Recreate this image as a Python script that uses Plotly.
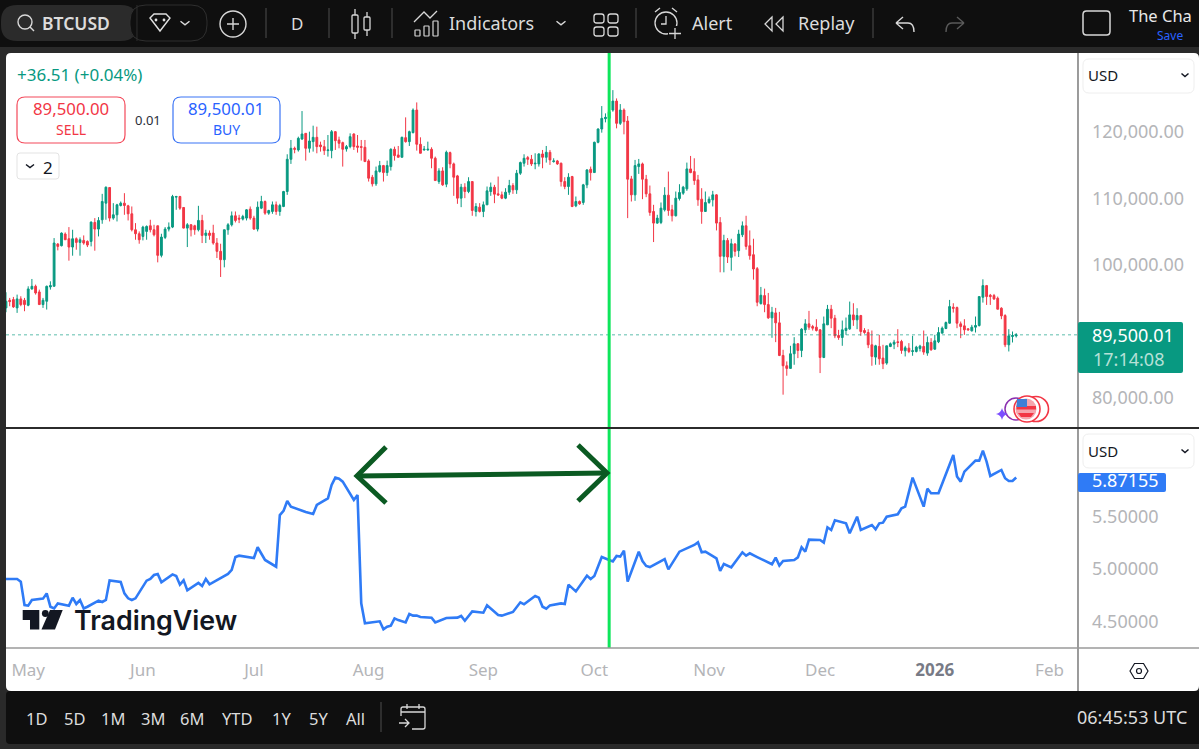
import re
import pandas as pd
import plotly.graph_objects as go
from plotly.subplots import make_subplots

W, H = 1199, 749
FONT = "Noto Sans"

# ---- data (price in thousands of USD, one candle per day from 2025-04-25) ----
first_day = "2025-04-25"
open_k = [
93.55,94.7,94.8,93.55,94.9,94.7,93.95,96.4,96.8,95.95,
94.05,94.55,96.7,96.8,103.15,102.9,104.65,103.95,102.7,103.95,
103.4,103.7,103.55,103.55,106.4,105.4,106.8,109.3,111.65,107.05,
107.55,108.95,109.3,108.9,107.7,105.3,104.7,104.3,105.05,105.9,
105.3,105.9,101.45,104.15,105.4,105.7,110.2,110.3,108.65,105.55,
106.05,105.9,105.3,106.7,104.45,104.8,104.8,103.3,102.05,100.8,
105.3,106.05,107.4,107.05,106.9,107.05,108.4,107.05,105.4,108.55,
109.55,107.8,108.05,109.05,108.05,108.8,111.05,115.9,117.55,117.3,
118.95,119.8,117.55,118.55,119.2,118.05,117.8,117.2,117.2,120.05,
118.8,118.4,117.45,117.8,119.7,117.9,117.8,117.7,115.65,113.2,
112.2,114.05,114.95,113.9,114.8,117.4,116.55,116.2,119.15,118.55,
119.9,123.3,118.15,117.3,117.3,117.4,116.05,112.55,114.15,112.15,
116.9,115.2,113.4,110.05,111.7,111.05,112.55,108.05,108.7,108.05,
109.05,111.05,111.7,110.7,110.55,110.05,110.95,111.95,111.3,113.8,
115.3,116.15,115.9,115.2,115.2,116.7,116.2,116.95,115.55,115.65,
115.3,112.55,111.8,113.3,108.9,109.55,109.4,112.05,114.4,113.9,
118.45,120.45,122.0,122.05,123.3,124.65,121.3,123.3,121.65,112.95,
110.55,114.8,115.2,112.9,110.7,108.05,106.3,106.4,108.3,110.5,
108.3,107.4,110.0,110.8,111.45,114.45,114.05,112.8,109.9,108.05,
109.4,109.8,110.55,106.4,101.3,103.7,101.15,103.15,102.15,104.55,
105.9,102.9,101.55,99.45,94.2,95.4,94.05,92.05,92.8,91.3,
86.4,84.85,84.45,86.65,88.15,87.15,90.25,91.15,90.75,90.65,
90.25,86.1,91.0,93.35,92.0,89.4,89.1,90.15,90.4,92.5,
91.75,92.4,90.15,89.85,88.0,86.15,87.75,86.0,85.25,87.75,
88.1,88.45,88.5,87.1,87.5,87.0,87.0,87.45,87.75,86.75,
88.35,87.35,88.45,89.75,90.45,91.25,93.65,93.6,91.15,90.85,
90.4,90.1,90.65,90.9,95.15,96.9,95.45,95.4,95.0,93.5,
92.4,88.0,89.25,89.35]
high_k = [
95.9,95.05,95.2,95.55,95.3,95.05,96.8,97.9,97.05,96.3,
95.05,96.9,97.55,104.05,103.3,104.9,104.9,105.7,105.3,104.15,
104.15,104.45,103.7,106.55,107.05,107.2,110.7,111.8,111.7,109.3,
109.2,109.55,110.8,109.05,108.8,106.3,105.05,105.9,105.95,106.8,
106.05,105.9,104.7,105.7,106.4,110.55,110.4,110.4,108.7,106.3,
106.15,106.05,108.9,107.55,105.3,105.2,106.05,104.05,103.2,105.3,
106.3,108.05,108.05,107.55,107.55,108.4,108.8,107.4,109.55,110.4,
109.7,108.3,109.55,109.55,109.2,111.15,116.65,118.8,117.8,119.3,
123.15,119.8,120.05,120.95,120.8,118.55,118.8,119.55,120.3,120.15,
119.3,118.55,118.05,119.8,119.8,119.55,118.8,118.8,115.9,113.55,
114.8,115.65,115.05,115.7,117.55,117.8,117.9,119.3,122.2,120.2,
123.55,124.45,119.2,117.9,118.55,117.7,116.3,114.55,114.7,117.2,
117.05,115.4,113.55,112.2,112.3,113.2,112.55,109.3,109.3,109.55,
111.8,112.4,112.05,113.3,111.05,111.55,112.8,112.3,114.3,115.55,
116.65,116.4,116.55,116.8,116.8,117.3,117.9,117.3,116.05,115.8,
115.4,113.2,113.8,113.4,110.3,109.7,112.2,114.4,114.8,118.55,
120.55,123.9,122.8,123.3,126.3,125.05,124.2,123.55,122.4,113.4,
115.8,115.95,115.4,113.55,111.95,109.05,107.55,109.4,111.7,114.05,
109.05,111.05,112.15,111.9,115.4,116.4,116.05,113.55,111.55,111.05,
110.3,111.15,110.65,107.2,104.55,104.05,103.95,103.3,105.3,106.55,
107.4,105.2,103.95,99.7,96.7,96.45,95.8,93.7,93.55,92.95,
87.25,85.5,87.85,89.15,88.25,90.5,91.85,93.1,91.0,91.85,
90.35,92.25,94.0,94.0,92.5,90.25,91.65,92.1,94.5,94.25,
93.5,92.5,90.5,90.35,90.15,88.0,89.5,88.0,87.85,88.35,
88.75,90.35,88.75,87.85,88.25,89.35,87.85,88.0,90.15,89.25,
89.0,89.5,90.65,90.75,91.5,94.75,94.25,93.75,91.5,91.85,
90.5,91.0,92.25,95.25,97.85,97.0,95.65,95.65,95.25,93.65,
92.6,90.35,90.0,89.75]
low_k = [
92.9,93.8,93.55,92.8,93.8,93.05,93.8,96.3,95.55,94.05,
93.55,93.3,96.3,96.8,102.2,102.8,103.8,100.65,101.4,102.3,
101.4,103.05,102.7,102.8,102.15,104.3,106.2,106.8,106.55,106.8,
106.55,108.8,107.55,106.7,105.05,103.8,103.2,103.7,103.8,104.9,
104.3,100.4,101.15,103.9,105.05,105.55,108.3,108.3,105.5,102.7,
104.3,104.55,105.05,103.3,103.3,103.8,103.05,101.05,98.2,99.65,
104.55,105.8,106.4,106.3,106.7,106.7,106.8,105.3,105.05,108.4,
107.55,107.55,107.7,107.55,107.4,108.7,110.55,115.2,116.8,117.05,
118.8,115.7,116.9,117.05,116.8,117.05,116.55,116.3,116.05,117.3,
117.55,114.8,117.05,117.55,117.3,116.9,115.7,115.55,112.55,111.8,
111.9,113.9,112.55,113.4,114.2,115.7,116.2,116.2,118.4,117.9,
119.8,117.2,116.8,117.2,117.2,114.55,112.7,112.2,111.9,111.7,
114.55,110.4,109.2,108.7,110.05,110.8,107.4,107.3,107.9,107.2,
109.05,110.4,109.3,110.4,109.9,109.9,110.55,110.7,110.7,113.55,
114.8,115.05,114.9,114.4,114.8,114.55,115.4,115.05,115.4,115.05,
111.8,111.4,110.55,108.7,108.7,109.05,109.05,111.55,112.7,113.9,
118.3,119.9,121.45,121.8,123.05,120.55,121.05,119.65,107.05,109.55,
109.65,113.7,109.9,110.2,107.4,103.45,106.2,106.15,108.05,107.4,
106.55,107.3,109.7,110.55,111.15,113.8,112.05,108.9,106.2,108.05,
109.2,108.8,105.2,98.9,98.9,100.3,99.15,101.3,101.2,104.2,
102.3,100.8,97.8,93.8,94.05,92.9,91.9,89.05,88.4,86.3,
80.5,83.35,84.45,85.0,86.0,86.15,89.75,90.25,90.15,90.0,
83.75,86.0,91.0,90.5,89.0,88.75,87.85,89.5,90.25,90.85,
90.35,89.35,89.65,87.5,84.85,85.0,85.0,84.35,85.0,87.65,
87.35,87.65,86.65,86.25,86.75,86.35,86.85,87.0,86.5,86.35,
87.1,87.25,88.25,89.75,90.35,91.15,92.85,90.5,89.0,89.5,
90.15,90.0,89.85,90.75,94.35,94.0,94.0,94.75,93.35,91.85,
87.65,87.0,88.35,89.1]
close_k = [
94.55,94.5,93.7,94.9,94.05,94.05,96.4,96.8,95.8,94.05,
94.7,96.8,96.9,103.3,102.8,104.8,103.8,102.7,103.95,103.4,
103.8,103.3,103.0,106.45,105.4,106.7,109.55,111.7,107.05,107.55,
109.05,109.3,108.95,107.7,105.3,104.7,103.8,105.7,105.8,105.3,
104.55,101.45,104.2,105.4,105.7,110.3,110.3,108.55,105.55,106.05,
105.3,105.3,106.7,104.45,104.8,104.45,103.3,102.05,100.8,105.3,
106.05,107.4,106.7,106.9,107.3,108.3,107.05,105.4,108.7,109.55,
107.8,108.2,109.05,108.05,108.95,111.05,115.9,117.55,117.4,119.05,
119.7,117.55,118.65,119.2,117.8,117.8,117.2,117.3,120.05,118.7,
118.3,117.4,117.8,119.3,117.8,117.7,117.7,115.55,113.05,112.2,
114.15,114.95,113.9,114.95,117.4,116.45,116.2,119.2,118.55,120.05,
123.3,118.15,116.8,117.4,117.4,116.05,112.7,114.15,112.05,116.95,
115.2,113.2,110.05,111.7,111.05,112.55,108.2,108.8,108.05,109.05,
111.15,111.7,110.65,110.55,110.05,110.95,111.95,111.3,113.8,115.4,
116.05,115.9,115.2,115.3,116.7,116.2,116.95,115.8,115.65,115.2,
112.55,111.8,113.2,108.8,109.55,109.2,112.05,114.3,113.9,118.45,
120.45,122.05,122.2,123.05,124.65,121.3,123.3,121.55,112.9,110.55,
114.95,115.2,112.9,110.7,107.9,106.3,107.05,108.55,110.5,108.2,
107.4,110.05,110.9,111.7,114.45,113.9,112.7,109.8,108.05,109.4,
109.9,110.55,106.3,101.3,103.7,101.2,103.2,102.05,104.65,105.9,
102.8,101.4,99.4,94.4,95.45,94.05,92.05,92.9,91.3,86.4,
84.85,84.45,86.65,88.15,87.15,90.35,91.15,90.65,90.5,90.15,
86.1,91.15,93.35,92.0,89.35,89.1,90.25,90.5,92.5,91.75,
92.4,90.0,89.85,88.0,86.25,87.85,85.9,85.15,87.85,88.15,
88.4,88.35,87.15,87.55,87.0,87.1,87.65,87.8,86.9,88.35,
87.25,88.6,89.85,90.5,91.35,93.75,93.5,91.25,90.75,90.25,
90.25,90.65,90.9,95.25,96.9,95.25,95.25,94.9,93.35,92.35,
88.0,89.35,89.4,89.5]

# lower pane: day number (counted from first_day) and indicator value
line_day = [0,3,4,5,6,7,10,11,12,13,14,17,18,19,20,21,22,25,26,27,28,31,32,33,34,35,38,39,40,41,42,45,46,47,48,49,
52,53,54,55,60,61,62,63,67,68,70,73,74,75,76,77,81,83,84,86,87,88,89,90,91,94,95,96,97,101,102,103,104,105,106,
108,109,110,111,112,115,116,119,122,123,124,126,129,130,133,134,137,139,140,143,144,145,146,147,150,151,152,154,
157,158,159,161,163,164,165,166,167,168,171,172,173,174,178,179,182,186,187,188,189,192,193,194,196,199,200,201,
203,207,208,209,210,213,214,215,216,217,220,221,222,223,224,227,228,230,231,234,235,236,237,238,241,242,243,245,
248,249,250,252,256,257,258,259,262,263,264,265,266,269,270,271,272,273]
line_value = [4.905,4.905,4.88,4.657,4.651,4.705,4.718,4.768,4.641,4.625,4.673,4.651,4.727,4.667,4.705,4.625,4.641,
4.699,4.686,4.705,4.892,4.876,4.768,4.721,4.705,4.721,4.889,4.905,4.943,4.953,4.873,4.949,4.933,4.851,4.892,4.797,
4.867,4.838,4.905,4.854,4.953,4.991,5.114,5.127,5.105,5.207,5.086,5.022,5.514,5.553,5.648,5.594,5.543,5.524,5.61,
5.657,5.673,5.8,5.87,5.86,5.832,5.657,5.705,4.673,4.483,4.502,4.426,4.451,4.461,4.53,4.514,
4.492,4.572,4.556,4.556,4.543,4.537,4.492,4.533,4.537,4.553,4.508,4.597,4.584,4.654,4.562,4.556,4.591,4.683,4.664,
4.743,4.727,4.641,4.622,4.654,4.673,4.667,4.851,4.787,
4.937,4.905,4.933,5.114,5.086,5.073,5.124,5.118,5.175,4.88,5.165,5.076,5.029,5.019,5.095,4.997,5.165,5.229,5.254,
5.159,5.165,5.102,4.981,5.048,5.016,5.159,5.127,5.149,
5.114,5.045,5.108,5.032,5.076,5.086,5.111,5.207,5.165,5.28,5.276,5.251,5.397,5.372,5.464,5.435,5.34,5.498,5.372,
5.419,5.378,5.435,5.441,5.498,5.521,5.578,5.594,5.87,
5.594,5.765,5.721,5.721,6.086,5.88,5.832,5.927,6.032,6.032,6.127,6.022,5.886,5.943,5.864,5.838,5.838,5.87155]

price_ticks = [120000, 110000, 100000, 80000]
price_tick_text = ["120,000.00", "110,000.00", "100,000.00", "80,000.00"]
ind_ticks = [5.5, 5.0, 4.5]
ind_tick_text = ["5.50000", "5.00000", "4.50000"]
month_ticks = ["2025-05-01","2025-06-01","2025-07-01","2025-08-01","2025-09-01","2025-10-01",
               "2025-11-01","2025-12-01","2026-01-01","2026-02-01"]
month_text = ["May","Jun","Jul","Aug","Sep","Oct","Nov","Dec",
              "<b><span style='color:#787b86'>2026</span></b>","Feb"]
last_price = 89500.01
marked_day = "2025-10-05"

dates = pd.date_range(first_day, periods=len(close_k), freq="D")
line_dates = [dates[d] for d in line_day]

GREEN, RED, BLUE = "#089981", "#f23645", "#2962ff"
TICK = "#b4b5b8"
DARK, GAP = "#0f0f0f", "#2a2a2a"

fig = make_subplots(rows=2, cols=1, shared_xaxes=True)
fig.add_trace(go.Candlestick(
    x=dates,
    open=[v*1000 for v in open_k], high=[v*1000 for v in high_k],
    low=[v*1000 for v in low_k], close=[v*1000 for v in close_k],
    increasing=dict(line=dict(color=GREEN, width=1), fillcolor=GREEN),
    decreasing=dict(line=dict(color=RED, width=1), fillcolor=RED),
    whiskerwidth=0, showlegend=False), row=1, col=1)
fig.add_trace(go.Scatter(x=line_dates, y=line_value, mode="lines",
    line=dict(color="#2f7bf6", width=2.6), showlegend=False), row=2, col=1)

xdom = [6/W, 1078/W]
xrange_ = ["2025-04-25", "2026-02-08 16:48"]
x_font = dict(family=FONT, size=17, color=TICK)
y_font = dict(family=FONT, size=18, color=TICK)
fig.update_layout(
    width=W, height=H, margin=dict(l=0, r=0, t=0, b=0), autosize=False,
    paper_bgcolor=GAP, plot_bgcolor="rgba(0,0,0,0)", showlegend=False,
    font=dict(family=FONT),
    xaxis=dict(domain=xdom, range=xrange_, showgrid=False, zeroline=False, rangeslider=dict(visible=False),
               showticklabels=False, ticks="", type="date", matches="x2"),
    xaxis2=dict(domain=xdom, range=xrange_, showgrid=False, zeroline=False, type="date",
                tickmode="array", tickvals=month_ticks, ticktext=month_text, ticks="", ticklen=0,
                ticklabelstandoff=10, tickfont=x_font, showline=False),
    yaxis=dict(domain=[1-428/H, 1-53/H], range=[75490, 131880], side="right", showgrid=False, zeroline=False,
               tickmode="array", tickvals=price_ticks, ticktext=price_tick_text, ticks="", tickfont=y_font,
               ticklabelstandoff=13, showline=False),
    yaxis2=dict(domain=[1-648/H, 1-429/H], range=[4.248, 6.333], side="right", showgrid=False, zeroline=False,
                tickmode="array", tickvals=ind_ticks, ticktext=ind_tick_text, ticks="", tickfont=y_font,
                ticklabelstandoff=13, showline=False),
)

# ---- pixel helpers for the page furniture ----
shapes, notes = [], []
def fx(x): return x/W
def fy(y): return 1-y/H
def P(d):
    toks = d.split()
    out, isx = [], True
    for t in toks:
        if re.fullmatch(r"[A-Za-z]", t):
            out.append(t); isx = True
        else:
            out.append(f"{fx(float(t)):.5f}" if isx else f"{fy(float(t)):.5f}")
            isx = not isx
    return " ".join(out)
def path(d, color=None, width=1.5, fill=None, layer="above"):
    shapes.append(dict(type="path", xref="paper", yref="paper", path=P(d), layer=layer,
                       fillcolor=fill if fill else "rgba(0,0,0,0)",
                       line=dict(color=color if color else "rgba(0,0,0,0)", width=width if color else 0)))
def rrect(x0, y0, x1, y1, r, color=None, width=1, fill=None, layer="above"):
    path(f"M {x0+r} {y0} L {x1-r} {y0} Q {x1} {y0} {x1} {y0+r} L {x1} {y1-r} Q {x1} {y1} {x1-r} {y1} "
         f"L {x0+r} {y1} Q {x0} {y1} {x0} {y1-r} L {x0} {y0+r} Q {x0} {y0} {x0+r} {y0} Z", color, width, fill, layer)
def circle(cx, cy, r, color=None, width=1.5, fill=None):
    shapes.append(dict(type="circle", xref="paper", yref="paper", x0=fx(cx-r), x1=fx(cx+r), y0=fy(cy+r), y1=fy(cy-r),
                       fillcolor=fill if fill else "rgba(0,0,0,0)",
                       line=dict(color=color if color else "rgba(0,0,0,0)", width=width if color else 0)))
def text(x, y, s, size=15, color="#000", anchor="left", weight=None, family=FONT):
    notes.append(dict(x=fx(x), y=fy(y), xref="paper", yref="paper", text=s, showarrow=False, xanchor=anchor,
                      yanchor="middle", xshift=0, borderpad=0, borderwidth=0,
                      font=dict(family=family, size=size, color=color, weight=weight or 400)))
def chev(cx, cy, w=4, h=3, color="#d8d8d8", width=1.5):
    path(f"M {cx-w} {cy-h/2} L {cx} {cy+h/2} L {cx+w} {cy-h/2}", color, width)

# white panel behind both panes
rrect(6, 53, 1199, 691, 5, fill="#ffffff", layer="below")

# current price line and marked day
shapes.append(dict(type="line", xref="paper", yref="y", x0=6/W, x1=1078/W, y0=last_price, y1=last_price,
                   line=dict(color="rgba(8,153,129,0.65)", width=1, dash="dot"), layer="above"))
shapes.append(dict(type="line", xref="x", yref="paper", x0=marked_day, x1=marked_day, y0=fy(648), y1=fy(53),
                   line=dict(color="#0ee65b", width=3), layer="above"))

# dividers
path("M 1078 53 L 1078 691", "#7a7a7a", 1.5)
path("M 6 428 L 1199 428", "#2b2b2b", 2)
path("M 6 648 L 1199 648", "#9a9a9a", 1.5)

# drawn arrow
path("M 357 476 L 607 473", "#0b5a22", 5)
path("M 386 447 L 357 476 L 386 503", "#0b5a22", 5)
path("M 578 445 L 607 473 L 578 501", "#0b5a22", 5)

# scale widgets
rrect(1083, 59, 1194, 93, 6, "#eeeeee", 1, "#ffffff")
text(1088, 75, "USD", 15, "#131722"); chev(1185, 75, 3.5, 3, "#131722")
rrect(1078, 473, 1166, 492, 2, fill="#2f7bf6")
rrect(1083, 434, 1194, 468, 6, "#eeeeee", 1, "#ffffff")
text(1088, 451, "USD", 15, "#131722"); chev(1185, 451, 3.5, 3, "#131722")
text(1125, 480, "5.87155", 18, "#ffffff", "center")
rrect(1078, 322, 1183, 373, 2, fill=GREEN)
text(1132.5, 334.5, "89,500.01", 18, "#ffffff", "center")
text(1128, 358.5, "17:14:08", 18, "#b6e0d7", "center")

# hexagon settings mark
path("M 1130 671 L 1134.5 663.5 L 1143.5 663.5 L 1148 671 L 1143.5 678.5 L 1134.5 678.5 Z", "#131722", 1.2)
circle(1139, 671, 2.5, "#131722", 1.2)

# legend text, order buttons
text(17, 75, "+36.51 (+0.04%)", 17, GREEN)
rrect(17, 97, 125, 143, 8, "#f4495a", 1.2, "#ffffff")
text(71, 109, "89,500.00", 16.8, RED, "center"); text(71, 129, "SELL", 14, RED, "center")
text(148, 120, "0.01", 13, "#2a2e39", "center")
rrect(173, 97, 280, 143, 8, "#3b74f5", 1.2, "#ffffff")
text(226, 109, "89,500.01", 16.8, BLUE, "center"); text(226, 129, "BUY", 14, BLUE, "center")
rrect(17, 153, 59, 179, 3, "#e3e3e3", 1, "#ffffff")
chev(30, 166, 4, 3, "#131722"); text(48, 167, "2", 17, "#131722", "center")

# watermark
path("M 22.7 610 L 39.3 610 L 39.3 629.5 L 30 629.5 L 30 620 L 22.7 620 Z", fill="#131722")
circle(45.3, 613.5, 3.4, fill="#131722")
path("M 50 610 L 62.7 610 L 55 629.5 L 41.5 629.5 Z", fill="#131722")
text(74, 620, "TradingView", 26.8, "#131722", weight=600, family="Inter")

# calendar flags
circle(1016, 409, 11, "#8a2fb0", 1.5)
path("M 1002 408 Q 1003 413 1008 414 Q 1003 415 1002 420 Q 1001 415 996 414 Q 1001 413 1002 408 Z", fill="#7b4dff")
circle(1036, 409, 12.5, "#f23645", 1.6, "#ffffff")
circle(1027, 409, 13, "#f23645", 1.6, "#ffffff")
circle(1026, 409, 10.5, None, 0, "#f6a5ad")
path("M 1016.5 406 L 1036 406 L 1036 409.5 L 1016.5 409.5 Z", fill="#f23645")
path("M 1018 413 L 1034 413 L 1031 417 L 1021 417 Z", fill="#f23645")
path("M 1017 399 L 1027 399 L 1027 407 L 1016.5 407 Z", fill="#3f7fd6")

# top toolbar
rrect(-5, -5, 1204, 47, 0.1, fill=DARK)
rrect(1, 5, 137, 41, 16, fill="#2b2b2b")
rrect(130, 5, 207, 41, 16, "#2f2f2f", 1, DARK)
path("M 137 5 L 137 41", "#2f2f2f", 1)
circle(25, 22, 7, "#d8d8d8", 1.4); path("M 30 27 L 34 31", "#d8d8d8", 1.4)
text(42, 23, "BTCUSD", 17.5, "#dcdcdc", weight=600)
path("M 150 18 L 154 14 L 166 14 L 170 18 L 160 31 Z", "#e0e0e0", 1.4)
circle(156, 20, 1.4, fill="#e0e0e0"); circle(164, 20, 1.4, fill="#e0e0e0")
chev(185, 23, 4.5, 3.5)
circle(233, 24, 13, "#d8d8d8", 1.4); path("M 227 24 L 239 24 M 233 18 L 233 30", "#d8d8d8", 1.4)
for sx in (266, 329, 392, 636, 873):
    path(f"M {sx} 8 L {sx} 38", "#3a3a3a", 1.5)
text(297, 23, "D", 17, "#dcdcdc", "center")
rrect(352, 15, 358, 33, 1, "#d8d8d8", 1.3); path("M 355 9 L 355 15 M 355 33 L 355 39", "#d8d8d8", 1.3)
rrect(364, 17, 370, 30, 1, "#d8d8d8", 1.3); path("M 367 12 L 367 17 M 367 30 L 367 36", "#d8d8d8", 1.3)
path("M 414 22 L 424 12 L 430 18 L 437 11", "#d8d8d8", 1.3)
rrect(415, 30, 420, 36, 0.5, "#d8d8d8", 1.2); rrect(424, 26, 429, 36, 0.5, "#d8d8d8", 1.2); rrect(433, 21, 438, 36, 0.5, "#d8d8d8", 1.2)
text(449, 22.5, "Indicators", 18, "#dcdcdc")
chev(561, 23, 4.5, 3.5)
for gx, gy in ((594, 14), (608, 14), (594, 27), (608, 27)):
    rrect(gx, gy, gx+10, gy+9, 2.5, "#d8d8d8", 1.3)
circle(666, 23, 11, "#d8d8d8", 1.3)
path("M 666 16 L 666 24 L 661 24", "#d8d8d8", 1.3); path("M 655 12 L 660 8 M 677 12 L 672 8", "#d8d8d8", 1.3)
rrect(668, 26, 682, 40, 0.1, fill=DARK); path("M 675 28 L 675 39 M 669 33.5 L 681 33.5", "#d8d8d8", 1.3)
text(692, 22.5, "Alert", 18, "#dcdcdc")
path("M 772 17 L 765 24 L 772 31 Z M 783 17 L 776 24 L 783 31 Z", "#d8d8d8", 1.3)
text(798, 22.5, "Replay", 18, "#dcdcdc")
path("M 896 23 L 903 17 M 896 23 L 903 29 M 896 23 L 908 23 Q 914 23 914 32", "#d8d8d8", 1.4)
path("M 964 23 L 957 17 M 964 23 L 957 29 M 964 23 L 952 23 Q 946 23 946 32", "#5a5a5a", 1.4)
rrect(1083, 11, 1110, 35, 3.5, "#d8d8d8", 1.5)
text(1129, 15, "The Cha", 16.5, "#e8e8e8")
text(1170, 35, "Save", 12, BLUE, "center")

# bottom toolbar
rrect(6, 691, 1204, 744, 4, fill=DARK)
for s, bx in (("1D", 36), ("5D", 74), ("1M", 113), ("3M", 153), ("6M", 192), ("YTD", 237), ("1Y", 281), ("5Y", 318), ("All", 355)):
    text(bx, 718, s, 16.5, "#dcdcdc", "center")
path("M 381 702 L 381 732", "#3a3a3a", 1.5)
path("M 401 716 L 401 709 Q 401 707 403 707 L 423 707 Q 425 707 425 709 L 425 727 Q 425 729 423 729 L 412 729 M 401 712 L 425 712 M 407 704 L 407 709 M 419 704 L 419 709 M 399 723 L 409 723 M 405 719 L 409 723 L 405 727", "#d8d8d8", 1.3)
text(1187, 717, "06:45:53 UTC", 18, "#dcdcdc", "right")

fig.update_layout(shapes=shapes, annotations=notes)
fig.write_html("out.html", config={"displayModeBar": False},
               post_script="document.body.style.margin='0';document.body.style.overflow='hidden';")
